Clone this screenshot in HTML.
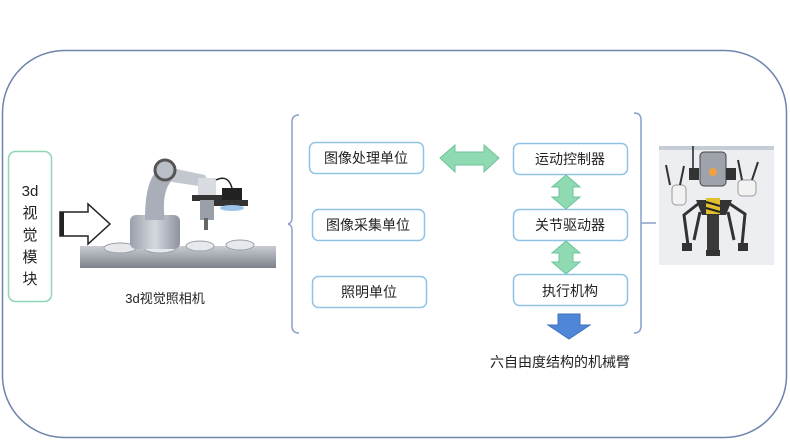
<!DOCTYPE html>
<html><head><meta charset="utf-8"><style>
html,body{margin:0;padding:0;background:#fff;}
svg{display:block;}
text{font-family:"Liberation Sans","Noto Sans CJK SC",sans-serif;fill:#222;}
</style></head><body>
<svg width="790" height="445" viewBox="0 0 790 445" xmlns="http://www.w3.org/2000/svg">
<defs>
<linearGradient id="tbl" x1="0" y1="0" x2="0" y2="1"><stop offset="0" stop-color="#c9ccd2"/><stop offset="1" stop-color="#7d828a"/></linearGradient>
<linearGradient id="arm" x1="0" y1="0" x2="1" y2="0"><stop offset="0" stop-color="#9aa0ab"/><stop offset="0.5" stop-color="#d5d8de"/><stop offset="1" stop-color="#8d929c"/></linearGradient>
</defs>
<rect x="2.5" y="50.5" width="784" height="387" rx="62" ry="62" fill="none" stroke="#6d84ad" stroke-width="1.5"/>
<!-- left module -->
<rect x="8.5" y="151.5" width="43" height="150" rx="7" fill="#fff" stroke="#8fd6b4" stroke-width="1.5"/>
<g font-size="15" text-anchor="middle">
<text x="30" y="196">3d</text><text x="30" y="218">视</text><text x="30" y="240">觉</text><text x="30" y="262">模</text><text x="30" y="284">块</text>
</g>
<!-- outline arrow -->
<path d="M60,212 H88 V204 L110,224 L88,244 V236 H60 Z" fill="#fff" stroke="#222" stroke-width="1.5"/>
<rect x="60" y="212" width="4" height="24" fill="#222"/>
<!-- robot arm picture -->
<rect x="80" y="246" width="196" height="22" fill="url(#tbl)"/>
<g fill="#e6e8ec" stroke="#9aa0a8"><ellipse cx="120" cy="248" rx="16" ry="5"/><ellipse cx="160" cy="248" rx="16" ry="5"/><ellipse cx="200" cy="246" rx="14" ry="5"/><ellipse cx="240" cy="245" rx="14" ry="5"/></g>
<rect x="130" y="215" width="50" height="34" rx="6" fill="url(#arm)"/>
<path d="M145,220 C145,190 150,170 168,163 L178,176 C165,182 162,200 165,220 Z" fill="#a9aeb8"/>
<path d="M162,166 L205,175 L212,188 L172,182 Z" fill="#c3c7cf"/>
<circle cx="165" cy="170" r="10" fill="#b9bec7" stroke="#555" stroke-width="3"/>
<rect x="198" y="178" width="18" height="18" fill="#d8dbe0"/>
<rect x="192" y="195" width="30" height="6" fill="#333"/>
<rect x="200" y="200" width="14" height="20" fill="#9aa0a8"/>
<rect x="204" y="218" width="4" height="12" fill="#666"/>
<rect x="222" y="188" width="20" height="14" fill="#222"/>
<rect x="214" y="200" width="34" height="6" fill="#333"/>
<ellipse cx="232" cy="208" rx="12" ry="3" fill="#9cc4e8"/>
<path d="M216,180 Q228,174 232,188" fill="none" stroke="#222" stroke-width="1.5"/>
<text x="165" y="303" font-size="13" text-anchor="middle">3d视觉照相机</text>
<!-- braces -->
<path d="M299,115 Q292,115 292,122 V218 Q292,223 288,224 Q292,225 292,230 V326 Q292,333 299,333" fill="none" stroke="#86a2c9" stroke-width="1.5"/>
<path d="M634,113 Q641,113 641,120 V326 Q641,333 634,333 M641,223 H656" fill="none" stroke="#86a2c9" stroke-width="1.5"/>
<!-- boxes -->
<g fill="#fff" stroke="#8fc3e6" stroke-width="1.5">
<rect x="309.5" y="142.5" width="114" height="31" rx="6"/>
<rect x="312.5" y="209.5" width="112" height="31" rx="6"/>
<rect x="312.5" y="276.5" width="114" height="31" rx="6"/>
<rect x="513.5" y="143.5" width="114" height="31" rx="6"/>
<rect x="513.5" y="209.5" width="114" height="31" rx="6"/>
<rect x="513.5" y="274.5" width="114" height="31" rx="6"/>
</g>
<g font-size="14" text-anchor="middle">
<text x="366" y="163">图像处理单位</text>
<text x="368" y="230">图像采集单位</text>
<text x="369" y="297">照明单位</text>
<text x="570" y="164">运动控制器</text>
<text x="570" y="230">关节驱动器</text>
<text x="570" y="296">执行机构</text>
</g>
<!-- green arrows -->
<g fill="#8fd9b3" stroke="#6cc49a" stroke-width="1">
<path d="M440,158 L455,145 V152 H484 V145 L499,158 L484,172 V165 H455 V172 Z"/>
<path d="M566,175 L580,187 H573 V197 H580 L566,209 L552,197 H559 V187 H552 Z"/>
<path d="M566,241 L580,253 H573 V262 H580 L566,274 L552,262 H559 V253 H552 Z"/>
</g>
<path d="M558,314 H580 V325 H590 L569,339 L548,325 H558 Z" fill="#4f86d8" stroke="#3f70bb"/>
<text x="560" y="367" font-size="14" text-anchor="middle">六自由度结构的机械臂</text>
<!-- robot figure -->
<rect x="659" y="146" width="115" height="119" fill="#eceef1"/>
<rect x="659" y="146" width="115" height="4" fill="#c5ccd6"/>
<line x1="693" y1="146" x2="693" y2="170" stroke="#222" stroke-width="1.5"/>
<rect x="700" y="152" width="26" height="34" rx="4" fill="#9ea3ab" stroke="#444"/>
<circle cx="713" cy="172" r="4" fill="#f0a040"/>
<rect x="689" y="168" width="10" height="12" fill="#333"/><rect x="726" y="168" width="10" height="12" fill="#333"/>
<rect x="672" y="185" width="14" height="20" rx="4" fill="#f2f2f2" stroke="#999"/>
<rect x="738" y="180" width="18" height="16" rx="4" fill="#f2f2f2" stroke="#999"/>
<path d="M670,185 L666,165 M680,185 L684,166 M742,180 L738,160 M752,180 L758,162" stroke="#333" stroke-width="2"/>
<path d="M696,200 H732 L726,215 H702 Z" fill="#333"/>
<rect x="706" y="198" width="14" height="16" fill="#e0c030"/>
<path d="M706,202 L720,206 M706,208 L720,212" stroke="#222" stroke-width="2"/>
<rect x="707" y="215" width="12" height="36" fill="#3a3a3a"/>
<path d="M698,204 L684,215 L688,245 M730,204 L745,214 L742,245 M700,212 L694,240 M728,212 L734,240" fill="none" stroke="#333" stroke-width="3"/>
<rect x="682" y="243" width="10" height="8" fill="#333"/><rect x="738" y="243" width="10" height="8" fill="#333"/><rect x="706" y="250" width="14" height="6" fill="#333"/>
</svg>
</body></html>
